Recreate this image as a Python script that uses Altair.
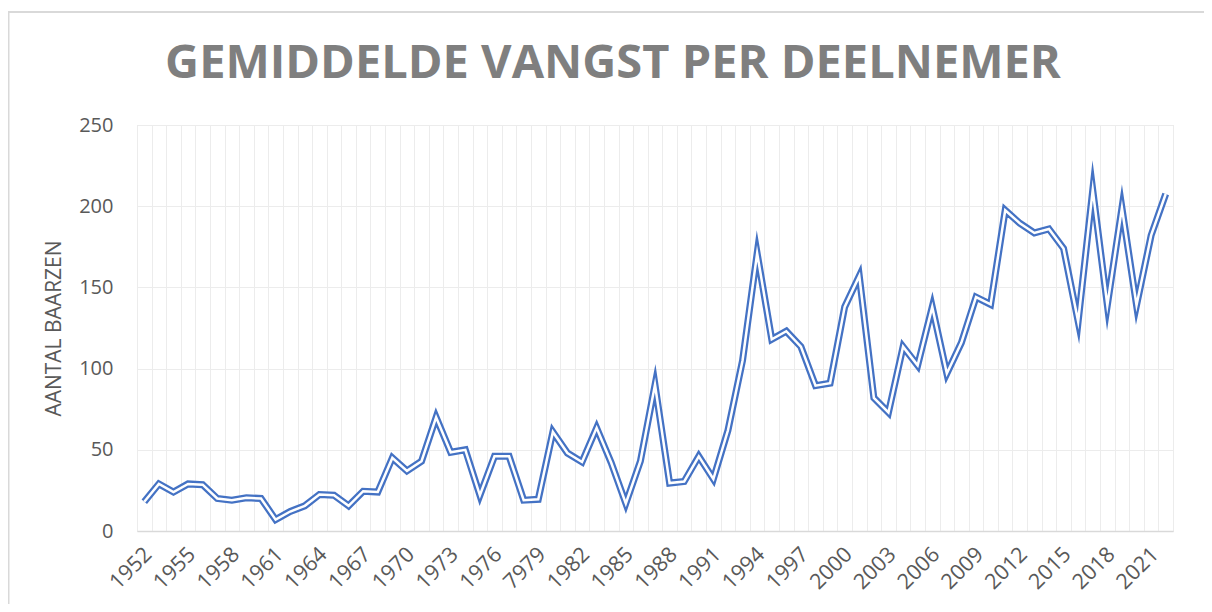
import altair as alt
import pandas as pd

years = list(range(1952, 2023))
# category labels as in the source sheet (1979 is labelled "7979" there)
categories = [("7979" if y == 1979 else str(y)) for y in years]
values = [
    18, 29, 24, 29, 28.5, 20, 19, 20.5, 20, 7,          # 1952-1961
    12, 15.5, 22.5, 22, 15.5, 24.5, 24, 45, 37, 43,     # 1962-1971
    70, 48.5, 50, 22, 46, 46, 19, 19.5, 61, 48,         # 1972-1981
    42.5, 63.5, 42, 17, 43, 90, 29.5, 30.5, 46, 32,     # 1982-1991
    62, 105, 171, 118, 123, 113.5, 89.5, 91, 138, 157,  # 1992-2001
    82, 73, 113.5, 102, 138, 97, 116, 144, 139.5, 197.5,  # 2002-2011
    189.5, 183.5, 186, 174, 129, 210, 139, 199, 139, 182,  # 2012-2021
    207.5,                                               # 2022
]
tick_labels = ["1952", "1955", "1958", "1961", "1964", "1967", "1970", "1973",
               "1976", "7979", "1982", "1985", "1988", "1991", "1994", "1997",
               "2000", "2003", "2006", "2009", "2012", "2015", "2018", "2021"]
y_ticks = [0, 50, 100, 150, 200, 250]

df = pd.DataFrame({"cat": categories, "value": values})

label_list = "[" + ",".join("'" + t + "'" for t in tick_labels) + "]"
label_expr = f"indexof({label_list}, datum.label) >= 0 ? datum.label : ''"

FONT = "Open Sans"
GRID = "#ececec"
TXT = "#595959"

x_enc = alt.X(
    "cat:N",
    sort=categories,
    bandPosition=0.5,
    scale=alt.Scale(type="band", paddingInner=0, paddingOuter=0),
    axis=alt.Axis(
        title=None,
        tickBand="extent",
        grid=True,
        gridColor=GRID,
        gridWidth=1,
        ticks=False,
        domain=True,
        domainColor="#d9d9d9",
        domainWidth=1.5,
        labelExpr=label_expr,
        labelOverlap=False,
        labelAngle=315,
        labelAlign="right",
        labelBaseline="middle",
        labelFont=FONT,
        labelFontSize=21.5,
        labelColor=TXT,
        labelPadding=20,
        labelOffset=4,
    ),
)
y_enc = alt.Y(
    "value:Q",
    scale=alt.Scale(domain=[0, 250], nice=False, zero=True),
    axis=alt.Axis(
        title="AANTAL BAARZEN",
        titleFont=FONT,
        titleFontSize=21,
        titleFontWeight="normal",
        titleColor=TXT,
        titlePadding=14,
        values=y_ticks,
        grid=True,
        gridColor=GRID,
        gridWidth=1,
        ticks=False,
        domain=False,
        labelFont=FONT,
        labelFontSize=20,
        labelColor=TXT,
        labelPadding=24,
    ),
)

base = alt.Chart(df)
outer = base.mark_line(color="#4472c4", strokeWidth=7, strokeJoin="miter",
                       strokeMiterLimit=20).encode(x=x_enc, y=y_enc)
inner = base.mark_line(color="white", strokeWidth=2.5, strokeJoin="miter",
                       strokeMiterLimit=20).encode(x=x_enc, y=y_enc)

frame = alt.Chart(pd.DataFrame({"a": [0]})).mark_rect(
    fillOpacity=0, stroke="#d9d9d9", strokeWidth=2
).encode(
    x=alt.value(-128.5), x2=alt.value(1100),
    y=alt.value(-113), y2=alt.value(500),
)

chart = alt.layer(frame, outer, inner).properties(
    width=1036,
    height=406,
    autosize=alt.AutoSizeParams(type="none"),
    padding={"left": 129, "top": 117, "right": 31, "bottom": 73},
    title=alt.TitleParams(
        text="GEMIDDELDE VANGST PER DEELNEMER",
        font=FONT,
        fontSize=47,
        fontWeight="bold",
        color="#7f7f7f",
        anchor="middle",
        offset=-77,
        dx=-42,
    ),
).configure_view(stroke=None).configure(background="white")

chart.save("out.html", embed_options={"renderer": "svg", "actions": False})
